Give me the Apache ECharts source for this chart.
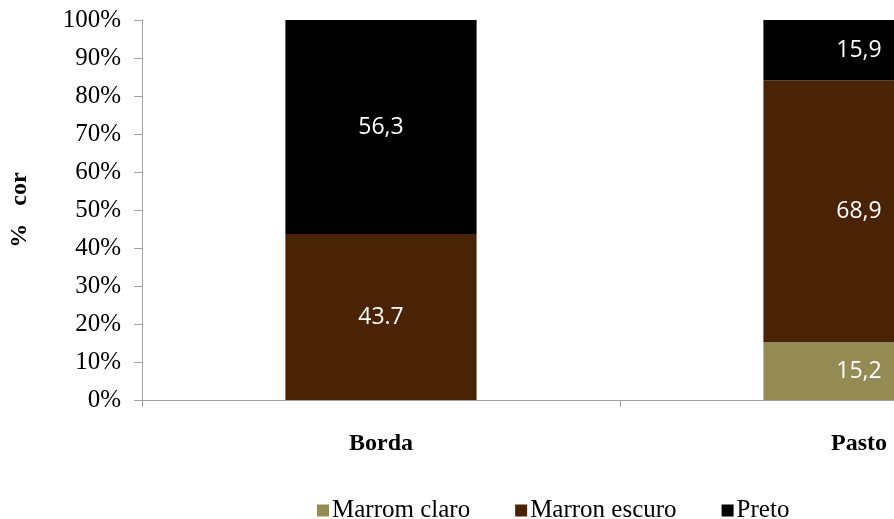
<!DOCTYPE html>
<html>
<head>
<meta charset="utf-8">
<title>% cor</title>
<script src="https://cdn.jsdelivr.net/npm/echarts@6/dist/echarts.min.js"></script>
<style>
  html, body { margin: 0; padding: 0; background: #fff; overflow: hidden; }
  /* o gráfico é mais largo que a janela: a barra "Pasto" fica cortada à direita */
  #main { width: 1098px; height: 519px; }
</style>
</head>
<body>
<div id="main"></div>
<script>
// categorias e valores (%)
var categories = ['Borda', 'Pasto'];
var seriesNames = ['Marrom claro', 'Marron escuro', 'Preto'];
var marromClaro = [0, 15.2];
var marronEscuro = [43.7, 68.9];
var preto = [56.3, 15.9];
// rótulos como aparecem no gráfico original
var labelsClaro = ['', '15,2'];
var labelsEscuro = ['43.7', '68,9'];
var labelsPreto = ['56,3', '15,9'];
var yTicks = [0, 10, 20, 30, 40, 50, 60, 70, 80, 90, 100];

var colors = ['#948A54', '#4A2304', '#000000'];

function makeSeries(name, data, labels, color) {
    return {
        name: name,
        type: 'bar',
        stack: 'total',
        barWidth: '40%',
        data: data,
        itemStyle: { color: color },
        label: {
            show: true,
            position: 'inside',
            color: '#fff',
            fontFamily: 'Open Sans',
            fontSize: 23,
            formatter: function (p) { return labels[p.dataIndex]; }
        }
    };
}

var chart = echarts.init(document.getElementById('main'));
chart.setOption({
    animation: false,
    grid: { left: 142, right: 0, top: 20, bottom: 119 },
    legend: {
        bottom: -9,
        left: 312,
        itemWidth: 12,
        itemHeight: 12,
        itemGap: 45,
        icon: 'rect',
        textStyle: { fontFamily: 'Liberation Serif', fontSize: 25, color: '#000', padding: [0, 0, 0, -2] },
        data: seriesNames
    },
    xAxis: {
        type: 'category',
        data: categories,
        axisLine: { lineStyle: { color: '#a0a0a0' } },
        axisTick: { show: true, alignWithLabel: false, length: 7, lineStyle: { color: '#a0a0a0' } },
        axisLabel: { fontFamily: 'Liberation Serif', fontWeight: 'bold', fontSize: 24, color: '#000', margin: 32 }
    },
    yAxis: {
        type: 'value',
        min: 0,
        max: 100,
        interval: 10,
        name: '%   cor',
        nameLocation: 'middle',
        nameGap: 110,
        nameTextStyle: { fontFamily: 'Liberation Serif', fontWeight: 'bold', fontSize: 24, color: '#000' },
        axisLine: { show: true, lineStyle: { color: '#a0a0a0' } },
        axisTick: { show: true, length: 8, lineStyle: { color: '#a0a0a0' } },
        splitLine: { show: false },
        axisLabel: {
            fontFamily: 'Liberation Serif',
            fontSize: 25,
            color: '#000',
            margin: 21,
            formatter: function (v) { return yTicks.indexOf(v) >= 0 ? v + '%' : ''; }
        }
    },
    series: [
        makeSeries(seriesNames[0], marromClaro, labelsClaro, colors[0]),
        makeSeries(seriesNames[1], marronEscuro, labelsEscuro, colors[1]),
        makeSeries(seriesNames[2], preto, labelsPreto, colors[2])
    ]
});
</script>
</body>
</html>
